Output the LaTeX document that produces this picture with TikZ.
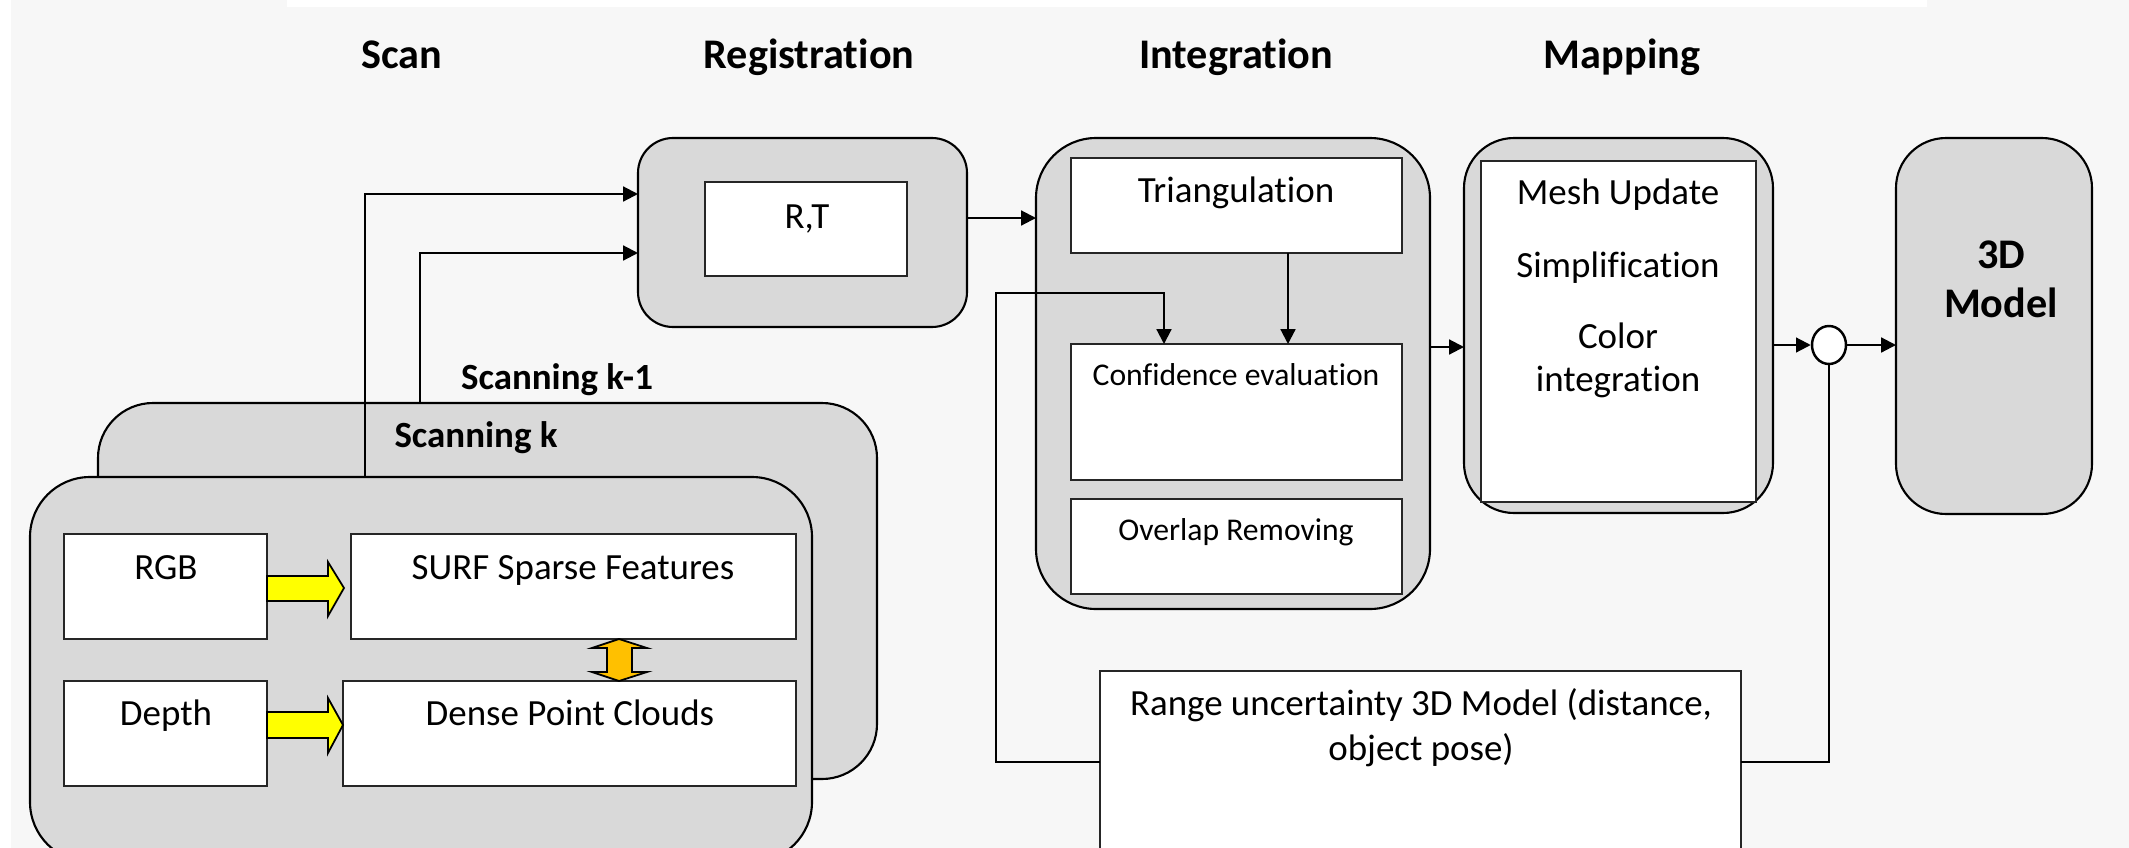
\documentclass[tikz,border=0pt]{standalone}
\usepackage{fontspec}
\setmainfont{Carlito}[RawFeature={-liga;-clig;-calt;-dlig}]
\usetikzlibrary{arrows.meta,fit,shapes.geometric}
\definecolor{bggray}{HTML}{F7F7F7}
\definecolor{boxgray}{HTML}{D9D9D9}
\definecolor{yel}{HTML}{FFFF00}
\definecolor{orng}{HTML}{FFC000}
\begin{document}
\begin{tikzpicture}[x=0.01cm,y=-0.01cm,
  gbox/.style={draw=black, fill=boxgray, line width=0.6pt, inner sep=0pt, outer sep=0pt},
  wbox/.style={draw=black!85, fill=white, line width=0.75pt, inner sep=0pt, outer sep=0pt},
  conn/.style={line width=0.6pt, draw=black},
  arr/.style={conn, -{Triangle[length=4.2pt,width=4.2pt]}},
  blockarrow/.style={draw=black, line width=0.5pt, line join=miter},
  title/.style={font=\fontsize{12}{14.4}\selectfont\bfseries, anchor=base, inner sep=0pt},
  subtitle/.style={font=\fontsize{10.5}{12.6}\selectfont\bfseries, anchor=base, inner sep=0pt},
  txt/.style={font=\fontsize{10.5}{12.6}\selectfont, anchor=base, inner sep=0pt},
  txtl/.style={font=\fontsize{10.5}{12.6}\selectfont, anchor=base, inner sep=0pt},
  txts/.style={font=\fontsize{9}{11}\selectfont, anchor=base, inner sep=0pt}
]
\useasboundingbox (0,0) rectangle (2129,848);
\clip (0,0) rectangle (2129,848);
% background
\fill[white] (0,0) rectangle (2129,848);
\fill[bggray] (11,0) rectangle (2129,848);
\fill[white] (287,0) rectangle (1927,7);

% titles
\node[title] (tScan) at (402,68) {Scan};
\node[title] (tReg) at (809,68) {Registration};
\node[title] (tInt) at (1236,68) {Integration};
\node[title] (tMap) at (1622,68) {Mapping};

% scanning boxes
\node[gbox, rounded corners=0.55cm, fit={(98,403)(877,779)}] (scankm1) {};
\node[subtitle] (tskm1) at (557,389) {Scanning k-1};
\node[subtitle] (tsk) at (476,447) {Scanning k};
\coordinate (s1) at (365,477);
\coordinate (s2) at (420,403);

% registration
\node[gbox, rounded corners=0.35cm, fit={(638,138)(967,327)}] (reg) {};
\node[wbox, fit={(705,182)(907,276)}] (rt) {};
\node[txtl] at (807,228) {R,T};

\draw[arr] (s1) |- (reg.west |- 0,194);
\draw[arr] (s2) |- (reg.west |- 0,253);

\node[gbox, rounded corners=0.6cm, fit={(30,477)(812,862)}] (scank) {};
\node[wbox, fit={(64,534)(267,639)}] (rgb) {};
\node[wbox, fit={(351,534)(796,639)}] (surf) {};
\node[wbox, fit={(64,681)(267,786)}] (depth) {};
\node[wbox, fit={(343,681)(796,786)}] (dense) {};
\node[txt] at (166,579) {RGB};
\node[txt] at (573,579) {SURF Sparse Features};
\node[txt] at (166,725) {Depth};
\node[txt] at (570,725) {Dense Point Clouds};

% yellow block arrows
\draw[blockarrow, fill=yel] (rgb.east |- 0,576) -- (328,576) -- (328,562) -- (344,588) -- (328,616) -- (328,601) -- (rgb.east |- 0,601) -- cycle;
\draw[blockarrow, fill=yel] (depth.east |- 0,712) -- (328,712) -- (328,698) -- (dense.west |- 0,725) -- (328,753) -- (328,738) -- (depth.east |- 0,738) -- cycle;
% orange double arrow
\draw[blockarrow, fill=orng] (surf.south -| 619,0) -- (647,648) -- (632,648) -- (632,672) -- (647,672) -- (dense.north -| 619,0) -- (592,672) -- (607,672) -- (607,648) -- (592,648) -- cycle;

% integration
\node[gbox, rounded corners=0.6cm, fit={(1036,138)(1430,609)}] (integ) {};
\node[wbox, fit={(1071,158)(1402,253)}] (tri) {};
\node[wbox, fit={(1071,344)(1402,480)}] (conf) {};
\node[wbox, fit={(1071,499)(1402,594)}] (overlap) {};
\node[txtl] at (1236,202) {Triangulation};
\node[txts] at (1236,385) {Confidence evaluation};
\node[txts] at (1236,540) {Overlap Removing};

% mapping
\node[gbox, rounded corners=0.5cm, fit={(1464,138)(1773,513)}] (map) {};
\node[wbox, fit={(1481,161)(1756,502)}] (mapin) {};
\node[txtl] at (1618,204) {Mesh Update};
\node[txtl] at (1618,277) {Simplification};
\node[txtl] at (1618,348) {Color};
\node[txtl] at (1618,391) {integration};

% 3D model
\node[gbox, rounded corners=0.5cm, fit={(1896,138)(2092,514)}] (model) {};
\node[title] at (2001,268) {3D};
\node[title] at (2001,317) {Model};

% circle
\node[draw=black, fill=white, line width=0.7pt, ellipse, inner sep=0pt, minimum width=0.34cm, minimum height=0.38cm] (circ) at (1829,345) {};

% range box
\node[wbox, fit={(1100,671)(1741,880)}] (range) {};
\node[txt] at (1421,715) {Range uncertainty 3D Model (distance,};
\node[txt] at (1421,760) {object pose)};

% connectors
\draw[arr] (reg.east |- 0,218) -- (integ.west |- 0,218);
\draw[arr] (tri.south -| 1288,0) -- (conf.north -| 1288,0);
\draw[arr] (range.west |- 0,762) -| (996,293) -| (conf.north -| 1164,0);
\draw[arr] (integ.east |- 0,347) -- (map.west |- 0,347);
\draw[arr] (map.east |- circ) -- (circ.west);
\draw[arr] (circ.east) -- (model.west |- circ);
\draw[conn] (range.east |- 0,762) -| (circ.south);
\end{tikzpicture}
\end{document}
